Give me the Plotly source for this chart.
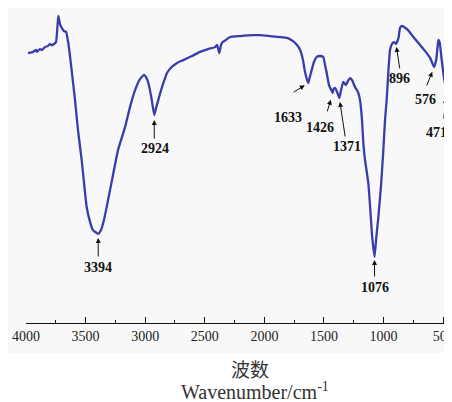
import numpy as np
import plotly.graph_objects as go

# Spectrum: wavenumber (cm-1) and transmittance (arbitrary %)
wavenumber = [3983, 3941, 3916, 3908, 3883, 3866, 3841, 3815, 3799, 3782, 3765, 3748,
              3729, 3715, 3700, 3681, 3664, 3645, 3622, 3589, 3564, 3533, 3491, 3463,
              3438, 3394, 3371, 3346, 3323, 3278, 3228, 3169, 3127, 3085, 3044, 3010,
              2993, 2976, 2960, 2945, 2924, 2909, 2890, 2867, 2848, 2817, 2778, 2733,
              2680, 2607, 2540, 2473, 2414, 2397, 2378, 2364, 2350, 2322, 2288, 2205,
              2096, 2037, 1953, 1869, 1810, 1760, 1726, 1700, 1676, 1659, 1633, 1621,
              1603, 1584, 1561, 1533, 1506, 1491, 1477, 1458, 1426, 1420, 1407, 1390,
              1371, 1357, 1338, 1316, 1299, 1282, 1265, 1240, 1215, 1198, 1181, 1170,
              1156, 1128, 1114, 1097, 1076, 1063, 1044, 1021, 1002, 988, 974, 959,
              946, 929, 912, 896, 875, 862, 845, 828, 795, 750, 694, 638,
              610, 576, 559, 548, 540, 530, 512, 493, 471, 458, 443, 426]
transmittance = [85.4, 85.8, 86.4, 85.8, 86.7, 86.4, 87.3, 87.7, 88.3, 87.9, 88.3, 88.9,
                 97.2, 94.6, 93.4, 92.4, 92.1, 88.6, 81.6, 70.6, 61.1, 51.6, 36.7, 32.0,
                 29.4, 28.2, 29.4, 32.6, 36.7, 45.3, 54.7, 62.0, 68.4, 73.7, 77.2, 78.5,
                 77.8, 76.3, 73.7, 70.6, 65.8, 68.0, 70.6, 73.7, 75.9, 79.1, 81.0, 82.3,
                 83.2, 84.5, 85.8, 86.7, 87.3, 88.0, 85.4, 88.0, 88.9, 89.6, 90.5, 90.8,
                 91.1, 91.1, 90.8, 90.5, 90.2, 89.2, 88.0, 86.4, 83.2, 79.4, 75.9, 77.5,
                 80.1, 82.6, 84.2, 84.5, 84.2, 81.6, 79.1, 75.3, 72.8, 74.1, 74.4, 73.1,
                 71.2, 73.7, 76.3, 75.3, 76.6, 77.5, 76.9, 74.7, 73.1, 70.6, 64.2, 57.0,
                 51.6, 44.3, 37.3, 27.8, 20.9, 26.3, 33.5, 43.7, 54.7, 64.2, 70.6, 80.1,
                 86.4, 88.3, 88.9, 88.3, 90.2, 93.4, 94.0, 93.7, 92.7, 90.5, 88.0, 85.4,
                 83.9, 81.0, 83.2, 87.0, 89.6, 88.9, 83.2, 77.5, 73.7, 78.5, 88.6, 94.3]

peak_labels = [3394, 2924, 1633, 1426, 1371, 1076, 896, 576, 471]
tick_values = [4000, 3500, 3000, 2500, 2000, 1500, 1000, 500]

# Layout-only offsets for the peak arrows and labels (pixels)
arrow_style = {
    3394: dict(ax=0, ay=24, standoff=4, xs=0, ys=-34),
    2924: dict(ax=0, ay=25, standoff=5, xs=1, ys=-33),
    1633: dict(ax=-16, ay=10, standoff=4, xs=-20, ys=-34),
    1426: dict(ax=-6, ay=20, standoff=7, xs=-13, ys=-35),
    1371: dict(ax=6, ay=40, standoff=4, xs=8, ys=-48),
    1076: dict(ax=0, ay=21, standoff=3, xs=0, ys=-31),
    896: dict(ax=4, ay=26, standoff=3, xs=4, ys=-35),
    576: dict(ax=-8, ay=20, standoff=5, xs=-9, ys=-32),
    471: dict(ax=-3, ay=30, standoff=8, xs=-10, ys=-42),
}

SERIF = "Liberation Serif, Times New Roman, Times, serif"

# The page body adds an 8 px margin; the figure is sized to fill the rest of the window.
PW = 426.0   # plot width in px
PH = 315.0   # plot height in px
AX_Y = 323.0  # page y of the x-axis line


def px(xpage):
    return (xpage - 26.0) / PW


def py(ypage):
    return (AX_Y - ypage) / PH


fig = go.Figure()
fig.add_trace(go.Scatter(x=wavenumber, y=transmittance, mode="lines",
                         line=dict(color="#383dab", width=2.3, shape="spline", smoothing=0.4),
                         hoverinfo="skip", showlegend=False))

wn_inc = np.array(wavenumber[::-1], dtype=float)
t_inc = np.array(transmittance[::-1], dtype=float)

annotations = []
for p in peak_labels:
    yv = float(np.interp(p, wn_inc, t_inc))
    s = arrow_style[p]
    annotations.append(dict(x=p, y=yv, xref="x", yref="y", text="", showarrow=True,
                            ax=s["ax"], ay=s["ay"], standoff=s["standoff"],
                            arrowhead=2, arrowsize=1, arrowwidth=1, arrowcolor="#111111"))
    annotations.append(dict(x=p, y=yv, xref="x", yref="y", text=str(p), showarrow=False,
                            xshift=s["xs"], yshift=s["ys"], xanchor="center", yanchor="middle",
                            font=dict(family=SERIF, size=14, color="#111111",
                                      weight="bold")))

annotations.append(dict(x=px(250), y=py(368), xref="paper", yref="paper",
                        text="波数", showarrow=False, xanchor="center", yanchor="middle",
                        font=dict(family="Noto Sans CJK SC", size=19, color="#333333")))
annotations.append(dict(x=px(255), y=py(391), xref="paper", yref="paper",
                        text="Wavenumber/cm<sup>-1</sup>", showarrow=False,
                        xanchor="center", yanchor="middle",
                        font=dict(family=SERIF, size=20, color="#333333")))

fig.update_layout(
    width=444, height=394,
    margin=dict(l=18, r=0, t=0, b=394 - 315, autoexpand=False),
    paper_bgcolor="white",
    plot_bgcolor="rgba(0,0,0,0)",
    showlegend=False,
    annotations=annotations,
    shapes=[dict(type="rect", xref="paper", yref="paper",
                 x0=px(8), x1=1.0, y0=py(353), y1=1.0,
                 fillcolor="#f8f8f8", line=dict(width=0), layer="below")],
    xaxis=dict(range=[4000, 426], tickmode="array", tickvals=tick_values,
               ticktext=[str(v) for v in tick_values], automargin=False,
               ticklabeloverflow="allow",
               ticks="inside", ticklen=6, tickwidth=1, tickcolor="#111111",
               showline=True, linecolor="#111111", linewidth=1.2,
               showgrid=False, zeroline=False,
               minor=dict(tickvals=[3750, 3250, 2750, 2250, 1750, 1250, 750],
                          ticks="inside", ticklen=3, tickcolor="#111111"),
               tickfont=dict(family=SERIF, size=14, color="#222222")),
    yaxis=dict(range=[0, (AX_Y - 8) / 3.16], visible=False, showgrid=False,
               zeroline=False, automargin=False),
)

fig.write_html("out.html")
